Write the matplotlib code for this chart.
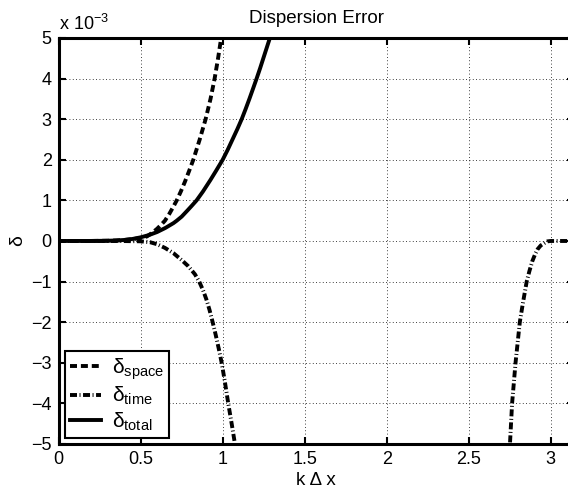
import numpy as np
import matplotlib.pyplot as plt
from matplotlib.ticker import FuncFormatter

plt.rcParams['font.family'] = ['Liberation Sans', 'DejaVu Sans']
plt.rcParams['mathtext.fontset'] = 'custom'
plt.rcParams['mathtext.rm'] = 'Liberation Sans'
plt.rcParams['mathtext.it'] = 'Liberation Sans:italic'
plt.rcParams['mathtext.default'] = 'rm'

# dispersion error curves, delta values in units of 1e-3
kdx_space = np.array([0.0, 0.2, 0.3, 0.35, 0.4, 0.45, 0.5, 0.537, 0.57, 0.6, 0.625,
                      0.648, 0.675, 0.7, 0.72, 0.745, 0.77, 0.795, 0.821, 0.86,
                      0.896, 0.926, 0.951, 0.972, 0.991, 1.008])
d_space = np.array([0.0, 0.001, 0.006, 0.012, 0.025, 0.045, 0.075, 0.11, 0.2, 0.3, 0.4,
                    0.5, 0.67, 0.85, 1.0, 1.22, 1.46, 1.72, 2.0, 2.5,
                    3.0, 3.5, 4.0, 4.5, 5.0, 5.5])

kdx_time = np.array([0.0, 0.3, 0.4, 0.5, 0.557, 0.6, 0.648, 0.7, 0.75, 0.79, 0.831,
                     0.857, 0.88, 0.9, 0.92, 0.939, 0.958, 0.976, 0.994, 1.014,
                     1.034, 1.055, 1.075, 1.09,
                     np.nan,
                     2.74, 2.752, 2.765, 2.786, 2.812, 2.83, 2.854, 2.87, 2.888,
                     2.905, 2.921, 2.94, 2.966, 2.98, 3.0, 3.05, np.pi])
d_time = np.array([0.0, 0.0, -0.002, -0.008, -0.03, -0.08, -0.17, -0.3, -0.47, -0.62,
                   -0.82, -1.0, -1.21, -1.43, -1.7, -2.0, -2.32, -2.65, -3.0, -3.48,
                   -4.0, -4.5, -5.0, -5.4,
                   np.nan,
                   -5.6, -5.0, -4.0, -3.0, -2.0, -1.55, -1.0, -0.75, -0.5,
                   -0.33, -0.2, -0.11, -0.04, -0.01, 0.0, 0.0, 0.0])

kdx_total = np.array([0.0, 0.2, 0.3, 0.35, 0.4, 0.45, 0.5, 0.55, 0.6, 0.65, 0.7, 0.72,
                      0.75, 0.785, 0.81, 0.841, 0.88, 0.925, 0.96, 1.0, 1.03, 1.06,
                      1.09, 1.116, 1.14, 1.163, 1.186, 1.207, 1.228, 1.248, 1.268,
                      1.288, 1.31])
d_total = np.array([0.0, 0.001, 0.006, 0.013, 0.025, 0.05, 0.09, 0.145, 0.22, 0.32, 0.44,
                    0.5, 0.6, 0.75, 0.86, 1.0, 1.22, 1.5, 1.73, 2.0, 2.24, 2.5,
                    2.76, 3.0, 3.25, 3.5, 3.76, 4.0, 4.25, 4.5, 4.75,
                    5.0, 5.3])

xticks = [0, 0.5, 1, 1.5, 2, 2.5, 3]
yticks = np.arange(-5, 6) * 1e-3

fig = plt.figure(figsize=(5.68, 4.92), dpi=100)
ax = fig.add_axes([0.1033, 0.0976, 0.907, 0.8252])

lw = 2.8
ax.plot(kdx_space, d_space * 1e-3, color='k', lw=lw, dashes=(1.8, 1.0),
        label=r'$δ_{space}$')
ax.plot(kdx_time, d_time * 1e-3, color='k', lw=lw, dashes=(1.8, 0.65, 0.25, 0.65),
        label=r'$δ_{time}$')
ax.plot(kdx_total, d_total * 1e-3, color='k', lw=lw, label=r'$δ_{total}$')

ax.set_xlim(0, np.pi)
ax.set_ylim(-5e-3, 5e-3)
ax.set_xticks(xticks)
ax.set_yticks(yticks)
ax.xaxis.set_major_formatter(FuncFormatter(lambda v, p: f'{v:g}'))
ax.yaxis.set_major_formatter(
    FuncFormatter(lambda v, p: f'{int(round(v * 1e3))}'.replace('-', '\u2212')))

ax.tick_params(direction='in', top=True, right=True, length=5, width=1.5,
               labelsize=13, pad=5)
for s in ax.spines.values():
    s.set_linewidth(2.2)

ax.set_axisbelow(True)
ax.grid(True, color='k', lw=0.6, linestyle=(0, (1, 3)))

ax.annotate(r'x 10$^{-3}$', xy=(0, 1), xycoords='axes fraction',
            xytext=(0, 3), textcoords='offset points', ha='left', va='bottom',
            fontsize=13)

ax.set_title('Dispersion Error', fontsize=13.5, pad=11)
ax.set_xlabel('k Δ x', fontsize=13.5, labelpad=3)
ax.set_ylabel('δ', fontsize=14, labelpad=4)

leg = ax.legend(loc='lower left', fontsize=15, fancybox=False, edgecolor='k',
                framealpha=1, borderaxespad=0.3, handlelength=1.5,
                labelspacing=0.15, borderpad=0.25, handletextpad=0.5)
leg.get_frame().set_linewidth(1.5)

fig.savefig('out.png', dpi=100)
